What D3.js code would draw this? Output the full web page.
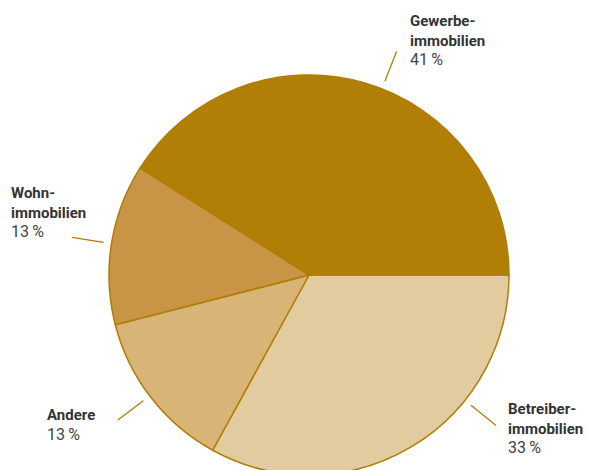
<!DOCTYPE html>
<html>
<head>
<meta charset="utf-8">
<script src="https://cdn.jsdelivr.net/npm/d3@7"></script>
<style>
  body { margin: 0; background: #fff; }
  text { font-family: Roboto, "Liberation Sans", sans-serif; fill: #333; }
</style>
</head>
<body>
<div id="chart"></div>
<script>
'use strict';

// data (clockwise from 3 o'clock)
var categories = ['Betreiberimmobilien', 'Andere', 'Wohnimmobilien', 'Gewerbeimmobilien'];
var labelLines = [['Betreiber-', 'immobilien'], ['Andere'], ['Wohn-', 'immobilien'], ['Gewerbe-', 'immobilien']];
var shares = [33, 13, 13, 41];
var colors = ['#e3cba0', '#d9b477', '#c79545', '#b17e06'];

var width = 589, height = 470;
var cx = 309, cy = 275, radius = 200;

// label placement (angle of leader line in degrees, text anchor point)
var labelPos = [
  {angle: 128.8, x: 508, y: 414},
  {angle: 232.8, x: 47, y: 420},
  {angle: 279, x: 11, y: 198},
  {angle: 21.4, x: 410, y: 26}
];

var svg = d3.select('#chart').append('svg')
  .attr('width', width)
  .attr('height', height);

var g = svg.append('g').attr('transform', 'translate(' + cx + ',' + cy + ')');

var pie = d3.pie()
  .sort(null)
  .startAngle(Math.PI / 2)
  .endAngle(Math.PI / 2 + 2 * Math.PI)
  .value(function(d) { return d; });

var arc = d3.arc().innerRadius(0).outerRadius(radius);

var arcs = pie(shares);

g.selectAll('path.slice')
  .data(arcs)
  .enter()
  .append('path')
  .attr('class', 'slice')
  .attr('d', arc)
  .style('fill', function(d, i) { return colors[i]; })
  .style('stroke', '#b07d05')
  .style('stroke-width', 1.5)
  .style('stroke-linejoin', 'round');

// leader lines
g.selectAll('line.leader')
  .data(labelPos)
  .enter()
  .append('line')
  .attr('class', 'leader')
  .attr('x1', function(d) { return 208 * Math.sin(d.angle * Math.PI / 180); })
  .attr('y1', function(d) { return -208 * Math.cos(d.angle * Math.PI / 180); })
  .attr('x2', function(d) { return 240 * Math.sin(d.angle * Math.PI / 180); })
  .attr('y2', function(d) { return -240 * Math.cos(d.angle * Math.PI / 180); })
  .style('stroke', '#b07d05')
  .style('stroke-width', 1.3);

// labels
var labels = svg.selectAll('text.label')
  .data(categories)
  .enter()
  .append('text')
  .attr('class', 'label')
  .attr('x', function(d, i) { return labelPos[i].x; })
  .attr('y', function(d, i) { return labelPos[i].y; })
  .style('font-size', '15px');

labels.each(function(d, i) {
  var t = d3.select(this);
  labelLines[i].forEach(function(line, j) {
    t.append('tspan')
      .attr('x', labelPos[i].x)
      .attr('dy', j === 0 ? 0 : 19.5)
      .style('font-weight', 'bold')
      .text(line);
  });
  t.append('tspan')
    .attr('x', labelPos[i].x)
    .attr('dy', 19.5)
    .style('font-weight', 'normal')
    .style('font-size', '16px')
    .style('fill', '#444')
    .text(shares[i] + '\u2009%');
});
</script>
</body>
</html>
